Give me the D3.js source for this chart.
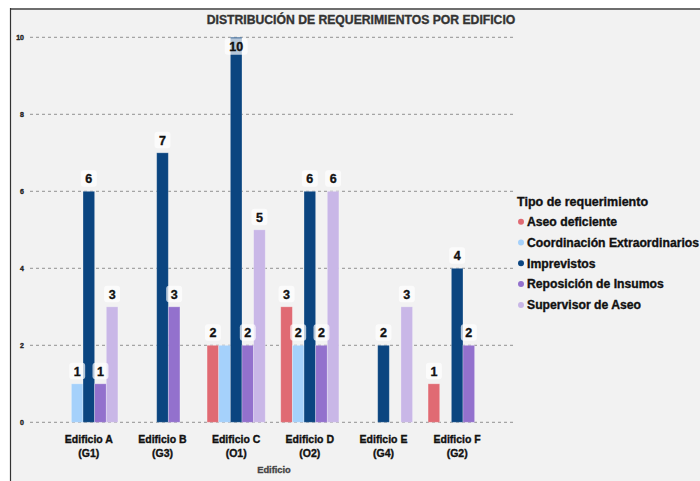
<!DOCTYPE html>
<html>
<head>
<meta charset="utf-8">
<script src="https://cdn.jsdelivr.net/npm/d3@7"></script>
<style>
  body { margin: 0; background: #fff; }
  text { font-family: "Liberation Sans", Arial, sans-serif; font-weight: bold; stroke-width: 0.35px; paint-order: stroke; }
</style>
</head>
<body>
<div id="chart"></div>
<script>
const buildings = ['Edificio A', 'Edificio B', 'Edificio C', 'Edificio D', 'Edificio E', 'Edificio F']
const codes = ['(G1)', '(G3)', '(O1)', '(O2)', '(G4)', '(G2)']
const types = ['Aseo deficiente', 'Coordinación Extraordinarios', 'Imprevistos', 'Reposición de Insumos', 'Supervisor de Aseo']
const colors = ['#e06a73', '#a5d1fb', '#0b4580', '#9371cd', '#c9b7e7']
// one array per tipo, in building order
const aseo = [0, 0, 2, 3, 0, 1]
const coordinacion = [1, 0, 2, 2, 0, 0]
const imprevistos = [6, 7, 10, 6, 2, 4]
const reposicion = [1, 3, 2, 2, 0, 2]
const supervisor = [3, 0, 5, 6, 3, 0]
const yTicks = [0, 2, 4, 6, 8, 10]

const series = [aseo, coordinacion, imprevistos, reposicion, supervisor]
const width = 700
const height = 481

const svg = d3.select('#chart').append('svg')
  .attr('width', width)
  .attr('height', height)

// panel
svg.append('rect')
  .attr('x', 10).attr('y', 8)
  .attr('width', width - 10).attr('height', height - 8)
  .attr('fill', '#f2f2f2')
svg.append('line')
  .attr('x1', 10).attr('y1', 9).attr('x2', width).attr('y2', 9)
  .attr('stroke', '#6e6e6e').attr('stroke-width', 2)
svg.append('line')
  .attr('x1', 10.5).attr('y1', 8).attr('x2', 10.5).attr('y2', height)
  .attr('stroke', '#333').attr('stroke-width', 1.2)

const x = d3.scaleBand().domain(buildings).range([52, 494]).paddingInner(0.21).paddingOuter(0.105)
const xs = d3.scaleBand().domain(types).range([0, x.bandwidth()])
const y = d3.scaleLinear().domain([0, 10]).range([422.3, 37.3])

// grid
svg.append('g').selectAll('line')
  .data(yTicks)
  .enter().append('line')
  .attr('x1', 30).attr('x2', 515)
  .attr('y1', d => y(d)).attr('y2', d => y(d))
  .attr('stroke', '#7a7a7a')
  .attr('stroke-width', 0.8)
  .attr('stroke-dasharray', '3,3')

svg.append('g').selectAll('text')
  .data(yTicks)
  .enter().append('text')
  .attr('x', 24).attr('y', d => y(d) + 2.5)
  .attr('text-anchor', 'end')
  .attr('font-size', 7)
  .attr('fill', '#222')
  .attr('stroke', '#222')
  .text(d => d)

// bars
const bars = []
buildings.forEach((b, i) => {
  types.forEach((t, j) => {
    bars.push({ b: b, t: t, j: j, v: series[j][i] })
  })
})
const shown = bars.filter(d => d.v > 0)

svg.append('g').selectAll('rect')
  .data(shown)
  .enter().append('rect')
  .attr('x', d => x(d.b) + xs(d.t))
  .attr('y', d => y(d.v))
  .attr('width', xs.bandwidth())
  .attr('height', d => y(0) - y(d.v))
  .attr('fill', d => colors[d.j])
  .attr('stroke', '#fff')
  .attr('stroke-opacity', 0.35)
  .attr('stroke-width', 0.8)

// value labels, skipping ones that collide
const labelG = svg.append('g')
const placed = []
shown.forEach(d => {
  const cx = x(d.b) + xs(d.t) + xs.bandwidth() / 2
  const t = labelG.append('text')
    .attr('x', cx)
    .attr('text-anchor', 'middle')
    .attr('font-size', 12.5)
    .attr('fill', '#111')
    .attr('stroke', '#111')
    .text(d.v)
  const w = Math.max(14.5, t.node().getComputedTextLength() + 9)
  const h = 16.5
  let top = y(d.v) - 4.5 - h
  if (top < y(10) + 1) top = y(10) + 1
  const box = { x0: cx - w / 2, x1: cx + w / 2, y0: top, y1: top + h }
  const hit = placed.some(p => box.x0 < p.x1 && box.x1 > p.x0 && box.y0 < p.y1 && box.y1 > p.y0)
  if (hit) { t.remove(); return }
  placed.push(box)
  labelG.insert('rect', function () { return t.node() })
    .attr('x', box.x0).attr('y', top)
    .attr('width', w).attr('height', h)
    .attr('rx', 3)
    .attr('fill', '#fff')
    .attr('fill-opacity', 0.7)
  t.attr('y', top + 12.8)
})

// x axis labels
const xl = svg.append('g').selectAll('text')
  .data(buildings)
  .enter().append('text')
  .attr('x', d => x(d) + x.bandwidth() / 2)
  .attr('text-anchor', 'middle')
  .attr('font-size', 10.5)
  .attr('fill', '#111')
  .attr('stroke', '#111')
xl.append('tspan').attr('x', d => x(d) + x.bandwidth() / 2).attr('y', 442.5).text(d => d)
xl.append('tspan').attr('x', d => x(d) + x.bandwidth() / 2).attr('y', 457).text((d, i) => codes[i])

svg.append('text')
  .attr('x', 274).attr('y', 472.5)
  .attr('text-anchor', 'middle')
  .attr('font-size', 9.3)
  .attr('fill', '#444')
  .attr('stroke', '#444')
  .text('Edificio')

svg.append('text')
  .attr('x', 361).attr('y', 23.5)
  .attr('text-anchor', 'middle')
  .attr('font-size', 12.2)
  .attr('fill', '#333')
  .attr('stroke', '#333')
  .text('DISTRIBUCIÓN DE REQUERIMIENTOS POR EDIFICIO')

// legend
const legend = svg.append('g')
legend.append('text')
  .attr('x', 517).attr('y', 206)
  .attr('font-size', 12.5)
  .attr('fill', '#111')
  .attr('stroke', '#111')
  .text('Tipo de requerimiento')
const item = legend.selectAll('g.item')
  .data(types)
  .enter().append('g')
  .attr('class', 'item')
  .attr('transform', (d, i) => `translate(0,${221.7 + i * 20.8})`)
item.append('circle')
  .attr('cx', 521).attr('cy', 0).attr('r', 3)
  .attr('fill', (d, i) => colors[i])
item.append('text')
  .attr('x', 527).attr('y', 4.3)
  .attr('font-size', 12.2)
  .attr('fill', '#111')
  .attr('stroke', '#111')
  .text(d => d)
</script>
</body>
</html>
